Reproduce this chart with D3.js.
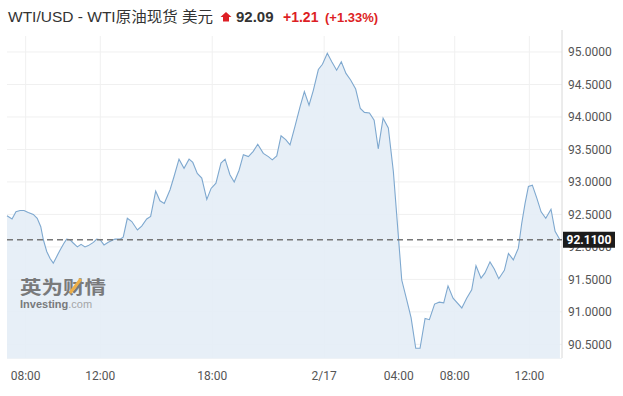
<!DOCTYPE html>
<html lang="zh">
<head>
<meta charset="UTF-8">
<title>WTI/USD</title>
<style>
  body { margin: 0; background: #fff; overflow: hidden; }
  svg { display: block; }
  .title { font-family: "Liberation Sans", Arial, "Noto Sans CJK SC", sans-serif; }
  .tick-label { font-family: Roboto, "Liberation Sans", sans-serif; font-size: 12px; fill: #555; }
</style>
<script src="https://d3js.org/d3.v7.min.js"></script>
</head>
<body>
<svg width="623" height="396"></svg>
<script>
// trading hours since 07:00 on 2/16 (the 06:00-07:00 break on 2/17 is removed)
const hours = [0, 0.27, 0.48, 0.7, 0.91, 1.14, 1.41, 1.62, 1.81, 1.95, 2.13, 2.31, 2.48, 2.66, 2.84, 3.06,
  3.2, 3.38, 3.55, 3.77, 3.97, 4.18, 4.36, 4.63, 4.81, 4.99, 5.2, 5.43, 5.7, 5.79, 6.06, 6.23,
  6.45, 6.69, 6.99, 7.22, 7.49, 7.7, 7.97, 8.2, 8.43, 8.74, 8.95, 9.22, 9.49, 9.76, 9.96, 10.2,
  10.44, 10.71, 10.94, 11.2, 11.47, 11.69, 11.95, 12.18, 12.44, 12.67, 12.94, 13.2, 13.44, 13.74, 14.01, 14.22,
  14.46, 14.69, 14.94, 15.17, 15.44, 15.71, 15.94, 16.19, 16.42, 16.69, 16.91, 17.17, 17.41, 17.67, 17.92, 18.17,
  18.42, 18.69, 18.94, 19.16, 19.43, 19.68, 19.9, 20.16, 20.44, 20.71, 21.16, 21.43, 21.66, 21.91, 22.14, 22.41,
  22.64, 22.92, 23.17, 23.41, 23.64, 23.91, 24.38, 24.64, 24.91, 25.14, 25.41, 25.62, 25.89, 26.12, 26.36, 26.66,
  26.88, 27.14, 27.41, 27.59, 27.77, 27.95, 28.16, 28.4, 28.63, 28.88, 29.16, 29.38, 29.64];

const prices = [92.48, 92.43, 92.54, 92.56, 92.56, 92.53, 92.50, 92.44, 92.31, 92.11, 91.93, 91.82, 91.75, 91.85, 91.95, 92.06,
  92.12, 92.11, 92.06, 92.00, 92.04, 92.00, 92.02, 92.07, 92.12, 92.11, 92.03, 92.07, 92.11, 92.12, 92.12, 92.15,
  92.44, 92.39, 92.26, 92.32, 92.43, 92.47, 92.86, 92.71, 92.67, 92.88, 93.08, 93.35, 93.21, 93.35, 93.30, 93.13,
  93.06, 92.73, 92.90, 92.98, 93.29, 93.35, 93.11, 93.00, 93.18, 93.42, 93.39, 93.47, 93.58, 93.44, 93.39, 93.34,
  93.40, 93.71, 93.65, 93.57, 93.86, 94.16, 94.39, 94.18, 94.41, 94.73, 94.81, 94.98, 94.85, 94.72, 94.85, 94.67,
  94.57, 94.43, 94.13, 94.07, 94.06, 93.95, 93.51, 93.98, 93.83, 93.16, 91.49, 91.18, 90.91, 90.44, 90.44, 90.90,
  90.88, 91.12, 91.15, 91.14, 91.40, 91.21, 91.06, 91.21, 91.34, 91.71, 91.52, 91.60, 91.77, 91.66, 91.51, 91.64,
  91.90, 91.80, 91.98, 92.36, 92.67, 92.93, 92.95, 92.75, 92.54, 92.44, 92.58, 92.24, 92.11];

const xTickHours = [1, 5, 11, 17, 21, 24, 28];
const xTickLabels = ["08:00", "12:00", "18:00", "2/17", "04:00", "08:00", "12:00"];
const yTicks = [90.5, 91, 91.5, 92, 92.5, 93, 93.5, 94, 94.5, 95];
const lastPrice = 92.11;

const svg = d3.select("svg");
const plotL = 7, plotR = 562, plotT = 36, plotB = 358;

const x = d3.scaleLinear().domain([0, 29.75]).range([plotL, plotR]);
const y = d3.scaleLinear().domain([90.29, 95.246]).range([plotB, plotT]);

const data = hours.map((h, i) => ({ h: h, p: prices[i] }));

// grid
const grid = svg.append("g");
grid.selectAll(".hg").data(yTicks).enter().append("line")
  .attr("x1", plotL).attr("x2", plotR)
  .attr("y1", d => y(d)).attr("y2", d => y(d))
  .attr("stroke", "#f0f0f0");
grid.selectAll(".vg").data(xTickHours).enter().append("line")
  .attr("x1", d => x(d)).attr("x2", d => x(d))
  .attr("y1", plotT).attr("y2", plotB)
  .attr("stroke", "#f0f0f0");

// area + line
const area = d3.area().x(d => x(d.h)).y0(plotB).y1(d => y(d.p));
const line = d3.line().x(d => x(d.h)).y(d => y(d.p));

svg.append("path").datum(data)
  .attr("d", area)
  .attr("fill", "#e4edf6")
  .attr("fill-opacity", 0.9);

svg.append("path").datum(data)
  .attr("d", line)
  .attr("fill", "none")
  .attr("stroke", "#7ea8cf")
  .attr("stroke-width", 1.1);

// axis lines
svg.append("line").attr("x1", plotR).attr("x2", plotR).attr("y1", plotT - 6).attr("y2", plotB)
  .attr("stroke", "#d8d8d8");
svg.append("line").attr("x1", plotL).attr("x2", plotR).attr("y1", plotB + 0.5).attr("y2", plotB + 0.5)
  .attr("stroke", "#eef2f6");

// watermark
const wm = svg.append("g").attr("opacity", 0.85);
wm.append("text")
  .attr("x", 20).attr("y", 294)
  .attr("textLength", 86).attr("lengthAdjust", "spacingAndGlyphs")
  .style("font-family", "'Noto Sans CJK SC', sans-serif")
  .style("font-weight", "bold").style("font-size", "18px")
  .attr("fill", "#666")
  .text("英为财情");
wm.append("path")
  .attr("d", "M70 293 L81 279")
  .attr("stroke", "#f0a52a").attr("stroke-width", 3);
const inv = wm.append("text")
  .attr("x", 20).attr("y", 308)
  .style("font-family", "'Liberation Sans', Arial, sans-serif")
  .style("font-size", "11px");
inv.append("tspan").attr("font-weight", "bold").attr("fill", "#666").text("Investing");
inv.append("tspan").attr("fill", "#999").text(".com");

// last price dashed line
svg.append("line")
  .attr("x1", plotL).attr("x2", plotR)
  .attr("y1", y(lastPrice)).attr("y2", y(lastPrice))
  .attr("stroke", "#777").attr("stroke-width", 1.5)
  .attr("stroke-dasharray", "6,4");

// y tick labels (92.0000 sits partly under the price marker, as in the original)
svg.selectAll(".yl").data(yTicks).enter().append("text")
  .attr("class", "tick-label")
  .attr("x", 568).attr("y", d => y(d))
  .attr("dy", "0.35em")
  .text(d => d3.format(".4f")(d));

// last price marker
svg.append("rect")
  .attr("x", 563).attr("y", y(lastPrice) - 8)
  .attr("width", 52).attr("height", 16)
  .attr("fill", "#1c1c1c");
svg.append("text")
  .attr("x", 589).attr("y", y(lastPrice))
  .attr("dy", "0.36em").attr("text-anchor", "middle")
  .style("font-family", "Roboto, 'Liberation Sans', sans-serif")
  .style("font-size", "12px").style("font-weight", "bold")
  .attr("fill", "#fff")
  .text(d3.format(".4f")(lastPrice));

// x tick labels
svg.selectAll(".xl").data(xTickHours).enter().append("text")
  .attr("class", "tick-label")
  .attr("x", d => x(d)).attr("y", 380)
  .attr("text-anchor", "middle")
  .text((d, i) => xTickLabels[i]);

// title
const title = svg.append("g").attr("class", "title");
title.append("text")
  .attr("x", 8).attr("y", 22)
  .attr("textLength", 205).attr("lengthAdjust", "spacingAndGlyphs")
  .style("font-size", "15px").attr("fill", "#333")
  .text("WTI/USD - WTI原油现货 美元");
title.append("path")
  .attr("d", "M226 12 L231.5 17 L229 17 L229 21.5 L223 21.5 L223 17 L220.5 17 Z")
  .attr("fill", "#dd1f25");
title.append("text")
  .attr("x", 236).attr("y", 22)
  .style("font-size", "15px").style("font-weight", "bold").attr("fill", "#333")
  .text("92.09");
title.append("text")
  .attr("x", 283).attr("y", 22)
  .style("font-size", "14px").style("font-weight", "bold").attr("fill", "#dd1f25")
  .text("+1.21");
title.append("text")
  .attr("x", 325).attr("y", 22)
  .style("font-size", "13px").style("font-weight", "bold").attr("fill", "#dd1f25")
  .text("(+1.33%)");
</script>
</body>
</html>
